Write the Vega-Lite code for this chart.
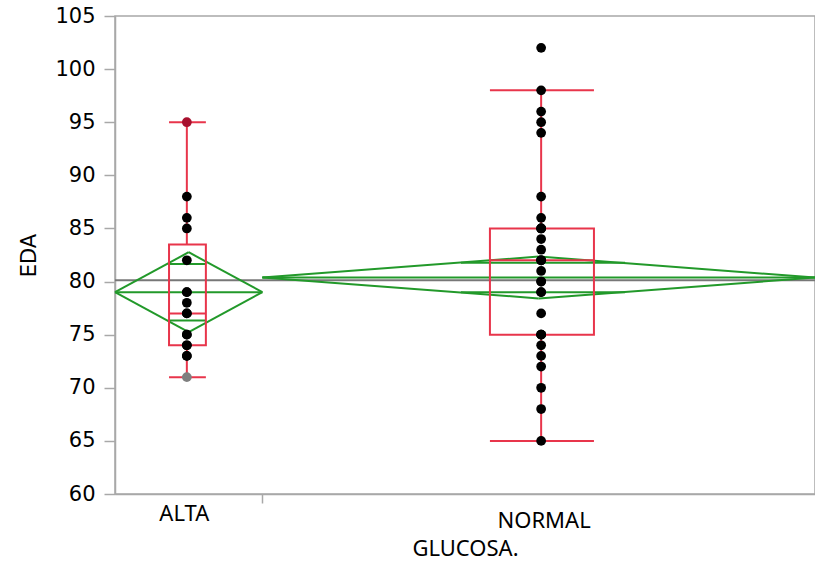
{
  "$schema": "https://vega.github.io/schema/vega-lite/v6.json",
  "width": 700,
  "height": 478,
  "autosize": "none",
  "padding": {"left": 115, "top": 16, "right": 0, "bottom": 78},
  "background": "white",
  "config": {
    "view": {"stroke": "#a8a8a8", "strokeWidth": 1.5},
    "axis": {
      "grid": false,
      "domainColor": "#a8a8a8",
      "domainWidth": 1.5,
      "tickColor": "#a8a8a8",
      "tickWidth": 1.5,
      "labelColor": "#000000",
      "titleColor": "#000000",
      "titleFontWeight": "normal"
    }
  },
  "datasets": {
    "puntos": [
      {"GLUCOSA": "ALTA", "EDA": 95}, {"GLUCOSA": "ALTA", "EDA": 88}, {"GLUCOSA": "ALTA", "EDA": 86},
      {"GLUCOSA": "ALTA", "EDA": 85}, {"GLUCOSA": "ALTA", "EDA": 82}, {"GLUCOSA": "ALTA", "EDA": 79},
      {"GLUCOSA": "ALTA", "EDA": 79}, {"GLUCOSA": "ALTA", "EDA": 78}, {"GLUCOSA": "ALTA", "EDA": 77},
      {"GLUCOSA": "ALTA", "EDA": 77}, {"GLUCOSA": "ALTA", "EDA": 75}, {"GLUCOSA": "ALTA", "EDA": 75},
      {"GLUCOSA": "ALTA", "EDA": 74}, {"GLUCOSA": "ALTA", "EDA": 74}, {"GLUCOSA": "ALTA", "EDA": 73},
      {"GLUCOSA": "ALTA", "EDA": 73}, {"GLUCOSA": "ALTA", "EDA": 71},
      {"GLUCOSA": "NORMAL", "EDA": 102}, {"GLUCOSA": "NORMAL", "EDA": 98}, {"GLUCOSA": "NORMAL", "EDA": 96},
      {"GLUCOSA": "NORMAL", "EDA": 95}, {"GLUCOSA": "NORMAL", "EDA": 94}, {"GLUCOSA": "NORMAL", "EDA": 88},
      {"GLUCOSA": "NORMAL", "EDA": 86}, {"GLUCOSA": "NORMAL", "EDA": 85}, {"GLUCOSA": "NORMAL", "EDA": 85},
      {"GLUCOSA": "NORMAL", "EDA": 85}, {"GLUCOSA": "NORMAL", "EDA": 84}, {"GLUCOSA": "NORMAL", "EDA": 83},
      {"GLUCOSA": "NORMAL", "EDA": 82}, {"GLUCOSA": "NORMAL", "EDA": 82}, {"GLUCOSA": "NORMAL", "EDA": 82},
      {"GLUCOSA": "NORMAL", "EDA": 81}, {"GLUCOSA": "NORMAL", "EDA": 80}, {"GLUCOSA": "NORMAL", "EDA": 80},
      {"GLUCOSA": "NORMAL", "EDA": 79}, {"GLUCOSA": "NORMAL", "EDA": 79}, {"GLUCOSA": "NORMAL", "EDA": 77},
      {"GLUCOSA": "NORMAL", "EDA": 75}, {"GLUCOSA": "NORMAL", "EDA": 75}, {"GLUCOSA": "NORMAL", "EDA": 75},
      {"GLUCOSA": "NORMAL", "EDA": 74}, {"GLUCOSA": "NORMAL", "EDA": 73}, {"GLUCOSA": "NORMAL", "EDA": 72},
      {"GLUCOSA": "NORMAL", "EDA": 70}, {"GLUCOSA": "NORMAL", "EDA": 68}, {"GLUCOSA": "NORMAL", "EDA": 65}
    ],
    "grupos": [
      {"GLUCOSA": "ALTA", "inicio": 0, "fin": 12, "centro_d": 6, "centro": 5.85,
       "media": 79.0, "ic_inf": 75.24, "ic_sup": 82.76, "sol_inf": 76.34, "sol_sup": 81.66, "sol_x1": 4.3, "sol_x2": 7.35,
       "min": 71, "q1": 74, "mediana": 77, "q3": 83.5, "max": 95, "caja_x1": 4.4, "caja_x2": 7.4},
      {"GLUCOSA": "NORMAL", "inicio": 12, "fin": 57, "centro_d": 34.5, "centro": 34.7,
       "media": 80.38, "ic_inf": 78.41, "ic_sup": 82.35, "sol_inf": 78.99, "sol_sup": 81.77, "sol_x1": 28.17, "sol_x2": 41.53,
       "min": 65, "q1": 75, "mediana": 82, "q3": 85, "max": 98, "caja_x1": 30.53, "caja_x2": 39.0}
    ],
    "global": [{"media_global": 80.13}]
  },
  "layer": [
    {
      "data": {"name": "global"},
      "mark": {"type": "rule", "color": "#777777", "strokeWidth": 2},
      "encoding": {
        "y": {"field": "media_global", "type": "quantitative", "scale": {"domain": [60, 105], "nice": false, "zero": false},
              "axis": {"values": [60, 65, 70, 75, 80, 85, 90, 95, 100, 105], "tickSize": 11, "labelPadding": 9,
                       "labelFont": "DejaVu Sans", "labelFontSize": 21, "title": "EDA", "titleFont": "DejaVu Sans",
                       "titleFontSize": 21, "titlePadding": 15}}
      }
    },
    {
      "data": {"name": "grupos"},
      "encoding": {
        "x": {"type": "quantitative", "scale": {"domain": [0, 57], "nice": false, "zero": false}},
        "y": {"type": "quantitative"}
      },
      "layer": [
        {"mark": {"type": "rule", "color": "#22992a", "strokeWidth": 2},
         "encoding": {"x": {"field": "inicio", "type": "quantitative",
                            "axis": {"values": [5.6, 12, 34.9],
                                     "labelExpr": "datum.value < 11 ? 'ALTA' : (datum.value > 13 ? 'NORMAL' : '')",
                                     "tickOpacity": {"condition": {"test": "datum.value == 12", "value": 1}, "value": 0},
                                     "labelPadding": {"condition": {"test": "datum.value > 13", "value": 7}, "value": 0},
                                     "tickSize": 9, "labelOverlap": false, "labelBound": false, "labelFlush": false,
                                     "labelFont": "Noto Sans", "labelFontSize": 22,
                                     "title": "GLUCOSA.", "titleFont": "Noto Sans", "titleFontSize": 22, "titlePadding": 7}},
                      "x2": {"field": "centro_d"},
                      "y": {"field": "media", "type": "quantitative"}, "y2": {"field": "ic_sup"}}},
        {"mark": {"type": "rule", "color": "#22992a", "strokeWidth": 2},
         "encoding": {"x": {"field": "centro_d", "type": "quantitative"}, "x2": {"field": "fin"},
                      "y": {"field": "ic_sup", "type": "quantitative"}, "y2": {"field": "media"}}},
        {"mark": {"type": "rule", "color": "#22992a", "strokeWidth": 2},
         "encoding": {"x": {"field": "fin", "type": "quantitative"}, "x2": {"field": "centro_d"},
                      "y": {"field": "media", "type": "quantitative"}, "y2": {"field": "ic_inf"}}},
        {"mark": {"type": "rule", "color": "#22992a", "strokeWidth": 2},
         "encoding": {"x": {"field": "centro_d", "type": "quantitative"}, "x2": {"field": "inicio"},
                      "y": {"field": "ic_inf", "type": "quantitative"}, "y2": {"field": "media"}}},
        {"mark": {"type": "rule", "color": "#22992a", "strokeWidth": 2},
         "encoding": {"x": {"field": "inicio", "type": "quantitative"}, "x2": {"field": "fin"},
                      "y": {"field": "media", "type": "quantitative"}}},
        {"mark": {"type": "rule", "color": "#22992a", "strokeWidth": 2},
         "encoding": {"x": {"field": "sol_x1", "type": "quantitative"}, "x2": {"field": "sol_x2"},
                      "y": {"field": "sol_sup", "type": "quantitative"}}},
        {"mark": {"type": "rule", "color": "#22992a", "strokeWidth": 2},
         "encoding": {"x": {"field": "sol_x1", "type": "quantitative"}, "x2": {"field": "sol_x2"},
                      "y": {"field": "sol_inf", "type": "quantitative"}}},
        {"mark": {"type": "rect", "fill": null, "fillOpacity": 0, "stroke": "#e8354b", "strokeWidth": 2},
         "encoding": {"x": {"field": "caja_x1", "type": "quantitative"}, "x2": {"field": "caja_x2"},
                      "y": {"field": "q1", "type": "quantitative"}, "y2": {"field": "q3"}}},
        {"mark": {"type": "rule", "color": "#e8354b", "strokeWidth": 2},
         "encoding": {"x": {"field": "caja_x1", "type": "quantitative"}, "x2": {"field": "caja_x2"},
                      "y": {"field": "mediana", "type": "quantitative"}}},
        {"mark": {"type": "rule", "color": "#e8354b", "strokeWidth": 2},
         "encoding": {"x": {"field": "centro", "type": "quantitative"},
                      "y": {"field": "q3", "type": "quantitative"}, "y2": {"field": "max"}}},
        {"mark": {"type": "rule", "color": "#e8354b", "strokeWidth": 2},
         "encoding": {"x": {"field": "centro", "type": "quantitative"},
                      "y": {"field": "min", "type": "quantitative"}, "y2": {"field": "q1"}}},
        {"mark": {"type": "rule", "color": "#e8354b", "strokeWidth": 2},
         "encoding": {"x": {"field": "caja_x1", "type": "quantitative"}, "x2": {"field": "caja_x2"},
                      "y": {"field": "max", "type": "quantitative"}}},
        {"mark": {"type": "rule", "color": "#e8354b", "strokeWidth": 2},
         "encoding": {"x": {"field": "caja_x1", "type": "quantitative"}, "x2": {"field": "caja_x2"},
                      "y": {"field": "min", "type": "quantitative"}}}
      ]
    },
    {
      "data": {"name": "puntos"},
      "transform": [
        {"lookup": "GLUCOSA", "from": {"data": {"name": "grupos"}, "key": "GLUCOSA", "fields": ["centro"]}}
      ],
      "mark": {"type": "circle", "size": 95, "opacity": 1},
      "encoding": {
        "x": {"field": "centro", "type": "quantitative"},
        "y": {"field": "EDA", "type": "quantitative"},
        "color": {
          "condition": [
            {"test": "datum.GLUCOSA == 'ALTA' && datum.EDA == 95", "value": "#a8102e"},
            {"test": "datum.GLUCOSA == 'ALTA' && datum.EDA == 71", "value": "#7f7f7f"}
          ],
          "value": "#000000"
        }
      }
    }
  ]
}
